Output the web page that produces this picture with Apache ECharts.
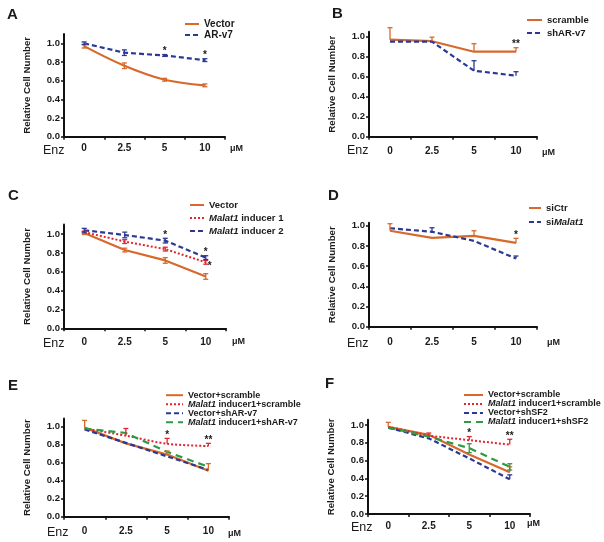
<!DOCTYPE html>
<html><head><meta charset="utf-8">
<script src="https://cdn.jsdelivr.net/npm/echarts@6/dist/echarts.min.js"></script>
<style>html,body{margin:0;padding:0;background:#fff}#c{width:604px;height:542px}</style>
</head><body><div id="c"></div>
<script>
const FONT = '"Liberation Sans", Arial, sans-serif';
const ORANGE = '#d6692b', NAVY = '#2b3894', RED = '#e2252f', GREEN = '#2f9a46';

const doses = ['0', '2.5', '5', '10'];
const yTickValues = [0, 0.2, 0.4, 0.6, 0.8, 1.0];

// Panel A
const aVector = [0.97, 0.76, 0.61, 0.55];
const aVectorErr = [0.02, 0.03, 0.015, 0.015];
const aARv7 = [1.0, 0.90, 0.87, 0.82];
const aARv7Err = [0.015, 0.03, 0.01, 0.015];
const aStars = ['', '', '*', '*'];

// Panel B
const bScramble = [0.97, 0.955, 0.85, 0.85];
const bScrambleErrUp = [0.12, 0.04, 0.08, 0.04];
const bShARv7 = [0.95, 0.95, 0.66, 0.61];
const bShARv7ErrUp = [0, 0, 0.10, 0.04];
const bStars = ['', '', '', '**'];

// Panel C
const cVector = [1.01, 0.83, 0.72, 0.55];
const cVectorErr = [0.015, 0.02, 0.03, 0.03];
const cInducer1 = [1.02, 0.92, 0.84, 0.70];
const cInducer1Err = [0.01, 0.02, 0.02, 0.02];
const cInducer2 = [1.04, 0.99, 0.93, 0.75];
const cInducer2Err = [0.02, 0.03, 0.025, 0.02];
const cStars2 = ['', '', '*', '*'];
const cStars1Right = ['', '', '', '*'];

// Panel D
const dSiCtr = [0.95, 0.88, 0.90, 0.83];
const dSiCtrErrUp = [0.07, 0, 0.05, 0.045];
const dSiMalat1 = [0.975, 0.94, 0.85, 0.675];
const dSiMalat1ErrUp = [0, 0.04, 0, 0.025];
const dStars = ['', '', '', '*'];

// Panel E
const eVecScr = [0.99, 0.815, 0.69, 0.51];
const eVecScrErrUp = [0.08, 0, 0.04, 0.08];
const eMalScr = [0.98, 0.90, 0.81, 0.785];
const eMalScrErrUp = [0, 0.08, 0.06, 0.03];
const eVecSh = [0.97, 0.82, 0.67, 0.52];
const eMalSh = [0.98, 0.93, 0.72, 0.555];
const eStars = ['', '', '*', '**'];

// Panel F
const fVecScr = [0.98, 0.89, 0.67, 0.47];
const fVecScrErrUp = [0.05, 0, 0, 0.06];
const fMalScr = [0.98, 0.88, 0.83, 0.78];
const fMalScrErrUp = [0, 0.03, 0.04, 0.06];
const fVecSh = [0.97, 0.85, 0.625, 0.39];
const fVecShErrUp = [0, 0, 0, 0.05];
const fMalSh = [0.97, 0.87, 0.74, 0.53];
const fMalShErr = [0, 0, 0.05, 0.035];
const fStars = ['', '', '*', '**'];

const styles = {
  orange: {color: ORANGE, width: 2.2, type: 'solid'},
  navy: {color: NAVY, width: 2.2, type: [5, 3]},
  red: {color: RED, width: 2, type: [2, 2]},
  green: {color: GREEN, width: 2.2, type: [7, 5]}
};

const panels = [
  {letter: 'A', grid: {left: 64, top: 34, width: 161, height: 102.7}, yMax: 1.1,
   letterPos: [7, 7], enzPos: [43, 144], labelMargin: 7, unitGap: 5, unitPad: 7.8,
   legend: {left: 184, top: 18.5, itemWidth: 14, row: 11, fontSize: 10},
   series: [
     {name: 'Vector', data: aVector, up: aVectorErr, down: aVectorErr, style: 'orange', smooth: 0.35},
     {name: 'AR-v7', data: aARv7, up: aARv7Err, down: aARv7Err, style: 'navy', stars: aStars}
   ]},
  {letter: 'B', grid: {left: 369, top: 31.7, width: 168, height: 105}, yMax: 1.05,
   letterPos: [332, 6], enzPos: [347, 144], labelMargin: 10, unitGap: 5, unitPad: 11,
   legend: {left: 526, top: 13.5, itemWidth: 15, row: 13, fontSize: 9.5},
   series: [
     {name: 'scramble', data: bScramble, up: bScrambleErrUp, style: 'orange', stars: bStars},
     {name: 'shAR-v7', data: bShARv7, up: bShARv7ErrUp, style: 'navy'}
   ]},
  {letter: 'C', grid: {left: 64, top: 224.6, width: 162, height: 103.7}, yMax: 1.1,
   letterPos: [8, 188], enzPos: [43, 337], labelMargin: 8.7, unitGap: 6, unitPad: 9,
   legend: {left: 189, top: 198.5, itemWidth: 14, row: 13, fontSize: 9.5},
   series: [
     {name: 'Vector', data: cVector, up: cVectorErr, down: cVectorErr, style: 'orange'},
     {name: 'Malat1 inducer 1', data: cInducer1, up: cInducer1Err, down: cInducer1Err, style: 'red', starsRight: cStars1Right},
     {name: 'Malat1 inducer 2', data: cInducer2, up: cInducer2Err, down: cInducer2Err, style: 'navy', stars: cStars2}
   ]},
  {letter: 'D', grid: {left: 369, top: 222.7, width: 168, height: 104}, yMax: 1.03,
   letterPos: [328, 188], enzPos: [347, 337], labelMargin: 11, unitGap: 10, unitPad: 11,
   legend: {left: 528, top: 201, itemWidth: 12, row: 14, fontSize: 9.5},
   series: [
     {name: 'siCtr', data: dSiCtr, up: dSiCtrErrUp, style: 'orange', stars: dStars},
     {name: 'siMalat1', data: dSiMalat1, up: dSiMalat1ErrUp, style: 'navy'}
   ]},
  {letter: 'E', grid: {left: 64, top: 418.6, width: 165, height: 98.1}, yMax: 1.09,
   letterPos: [8, 378], enzPos: [47, 526], labelMargin: 10, unitGap: -1, unitPad: 12,
   legend: {left: 165, top: 390.7, itemWidth: 17, row: 8.6, fontSize: 9},
   series: [
     {name: 'Vector+scramble', data: eVecScr, up: eVecScrErrUp, style: 'orange'},
     {name: 'Malat1 inducer1+scramble', data: eMalScr, up: eMalScrErrUp, style: 'red', smooth: 0.3, stars: eStars},
     {name: 'Vector+shAR-v7', data: eVecSh, style: 'navy'},
     {name: 'Malat1 inducer1+shAR-v7', data: eMalSh, style: 'green'}
   ]},
  {letter: 'F', grid: {left: 368, top: 419.7, width: 162, height: 94.3}, yMax: 1.06,
   letterPos: [325, 376], enzPos: [351, 521], labelMargin: 7, unitGap: -3, unitPad: 5.5,
   legend: {left: 463, top: 390.5, itemWidth: 19, row: 9, fontSize: 9},
   series: [
     {name: 'Vector+scramble', data: fVecScr, up: fVecScrErrUp, style: 'orange'},
     {name: 'Malat1 inducer1+scramble', data: fMalScr, up: fMalScrErrUp, style: 'red', stars: fStars},
     {name: 'Vector+shSF2', data: fVecSh, up: fVecShErrUp, style: 'navy'},
     {name: 'Malat1 inducer1+shSF2', data: fMalSh, up: fMalShErr, down: fMalShErr, style: 'green'}
   ]}
];

const txt = {fontFamily: FONT, color: '#1a1a1a'};
const grids = [], xAxes = [], yAxes = [], legends = [], titles = [], series = [];

panels.forEach((p, i) => {
  grids.push(Object.assign({containLabel: false}, p.grid));
  xAxes.push({
    gridIndex: i, type: 'category', data: doses, boundaryGap: true,
    axisLine: {show: true, lineStyle: {color: '#111', width: 2}},
    axisTick: {show: true, length: 3, lineStyle: {color: '#111', width: 1.5}},
    axisLabel: Object.assign({margin: p.labelMargin, fontSize: 10, fontWeight: 'bold'}, txt),
    splitLine: {show: false},
    name: 'μM', nameLocation: 'end', nameGap: p.unitGap,
    nameTextStyle: Object.assign({fontSize: 9, fontWeight: 'bold', align: 'left', verticalAlign: 'top', padding: [p.unitPad, 0, 0, 0]}, txt)
  });
  yAxes.push({
    gridIndex: i, type: 'value', min: 0, max: p.yMax, interval: 0.2,
    axisLine: {show: true, lineStyle: {color: '#111', width: 2}},
    axisTick: {show: true, length: 3, customValues: yTickValues, lineStyle: {color: '#111', width: 1.5}},
    axisLabel: Object.assign({customValues: yTickValues, formatter: v => v.toFixed(1), margin: 4, fontSize: 9.5, fontWeight: 'bold'}, txt),
    splitLine: {show: false},
    name: 'Relative Cell Number', nameLocation: 'middle', nameGap: 32,
    nameTextStyle: Object.assign({fontSize: 9.7, fontWeight: 'bold'}, txt)
  });
  titles.push({text: p.letter, left: p.letterPos[0], top: p.letterPos[1], padding: 0,
    textStyle: Object.assign({fontSize: 15, fontWeight: 'bold', lineHeight: 15}, txt)});
  titles.push({text: 'Enz', left: p.enzPos[0], top: p.enzPos[1], padding: 0,
    textStyle: Object.assign({fontSize: 12.5, fontWeight: 'normal', lineHeight: 13}, txt)});

  const L = p.legend;
  const rich = {i: Object.assign({fontStyle: 'italic', fontWeight: 'bold', fontSize: L.fontSize, lineHeight: L.row}, txt)};
  legends.push({
    orient: 'vertical', left: L.left, top: L.top, padding: 0, itemGap: 0,
    itemWidth: L.itemWidth, itemHeight: Math.min(8, L.row), selectedMode: false,
    itemStyle: {opacity: 0, borderWidth: 0},
    data: p.series.map(s => s.name),
    formatter: n => n.replace('Malat1', '{i|Malat1}'),
    textStyle: Object.assign({fontSize: L.fontSize, fontWeight: 'bold', lineHeight: L.row, rich: rich}, txt)
  });

  const bars = [];
  p.series.forEach(s => {
    const ls = styles[s.style];
    series.push({
      type: 'line', name: s.name, xAxisIndex: i, yAxisIndex: i, data: s.data,
      symbol: 'none', showSymbol: false, smooth: s.smooth || false, silent: true,
      lineStyle: {color: ls.color, width: ls.width, type: ls.type},
      itemStyle: {color: ls.color}, z: 2
    });
    s.data.forEach((v, k) => {
      const up = s.up ? s.up[k] : 0, dn = s.down ? s.down[k] : 0;
      const star = s.stars ? s.stars[k] : '', starR = s.starsRight ? s.starsRight[k] : '';
      if (up || dn || star || starR) bars.push({cat: k, v, up, dn, color: ls.color, star, starR});
    });
  });
  series.push({
    type: 'custom', name: 'err' + p.letter, xAxisIndex: i, yAxisIndex: i, silent: true, z: 5,
    data: bars.map(b => [b.cat, b.v + b.up]),
    renderItem: (params, api) => {
      const b = bars[params.dataIndex];
      const pt = api.coord([b.cat, b.v]);
      const t = api.coord([b.cat, b.v + b.up]);
      const d = api.coord([b.cat, b.v - b.dn]);
      const cap = 2.5, sw = 1.3;
      const ch = [];
      if (b.up > 0 || b.dn > 0) {
        ch.push({type: 'line', shape: {x1: pt[0], y1: d[1], x2: pt[0], y2: t[1]}, style: {stroke: b.color, lineWidth: sw}});
        if (b.up > 0) ch.push({type: 'line', shape: {x1: pt[0] - cap, y1: t[1], x2: pt[0] + cap, y2: t[1]}, style: {stroke: b.color, lineWidth: sw}});
        if (b.dn > 0) ch.push({type: 'line', shape: {x1: pt[0] - cap, y1: d[1], x2: pt[0] + cap, y2: d[1]}, style: {stroke: b.color, lineWidth: sw}});
      }
      if (b.star) ch.push({type: 'text', style: {text: b.star, x: pt[0], y: t[1] - 3, align: 'center', verticalAlign: 'middle',
        fontSize: 10, fontWeight: 'bold', fontFamily: FONT, fill: '#1a1a1a'}});
      if (b.starR) ch.push({type: 'text', style: {text: b.starR, x: pt[0] + 2, y: pt[1] + 4, align: 'left', verticalAlign: 'middle',
        fontSize: 10, fontWeight: 'bold', fontFamily: FONT, fill: '#1a1a1a'}});
      return {type: 'group', children: ch};
    }
  });
});

const chart = echarts.init(document.getElementById('c'), null, {renderer: 'canvas'});
chart.setOption({
  animation: false,
  backgroundColor: '#fff',
  title: titles, grid: grids, xAxis: xAxes, yAxis: yAxes, legend: legends, series: series
});
</script></body></html>
